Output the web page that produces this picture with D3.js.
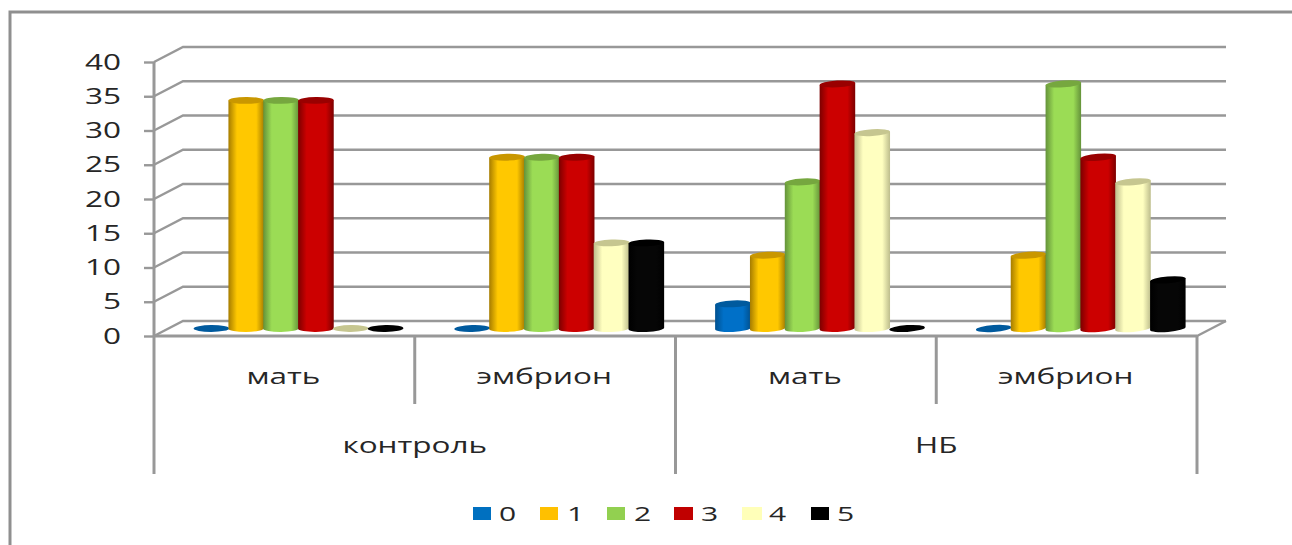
<!DOCTYPE html>
<html>
<head>
<meta charset="utf-8">
<script src="https://cdnjs.cloudflare.com/ajax/libs/d3/7.8.5/d3.min.js"></script>
<style>
html,body{margin:0;padding:0;background:#fff;}
svg{display:block;}
text{font-family:"Open Sans",sans-serif;fill:#262626;}
</style>
</head>
<body>
<svg id="chart" width="1292" height="545"></svg>
<script>
// Chart content
const subgroups = ["мать","эмбрион","мать","эмбрион"];
const groups = ["контроль","НБ"];
const seriesNames = ["0","1","2","3","4","5"];
const series0 = [0,0,3.6,0];
const series1 = [33.3,25,10.7,10.7];
const series2 = [33.3,25,21.4,35.7];
const series3 = [33.3,25,35.7,25];
const series4 = [0,12.5,28.6,21.4];
const series5 = [0,12.5,0,7.1];
const valueTicks = [0,5,10,15,20,25,30,35,40];

const seriesValues = [series0,series1,series2,series3,series4,series5];
// side, light centre, cap
const palette = [
  {side:"#00508f",mid:"#0070c8",cap:"#005a9e",key:"#0070c0"},
  {side:"#a67c00",mid:"#ffc800",cap:"#c99700",key:"#ffc000"},
  {side:"#64923a",mid:"#9bdc55",cap:"#76a73f",key:"#92d050"},
  {side:"#7c0000",mid:"#cc0000",cap:"#990000",key:"#c00000"},
  {side:"#bdbd8c",mid:"#ffffc0",cap:"#c6c690",key:"#ffffb9"},
  {side:"#000000",mid:"#060606",cap:"#000000",key:"#000000"}
];

// Layout of the pseudo-3D box
const plotLeft = 154, plotRight = 1197, plotTop = 62, plotFloor = 336;
const depthX = 29, depthY = -15;
const axisGray = "#989898";
const textStretch = 1.5;

const svg = d3.select("#chart");
const y = d3.scaleLinear().domain([0,40]).range([plotFloor,plotTop]);
const xSub = d3.scaleBand().domain(d3.range(subgroups.length)).range([plotLeft,plotRight]);
const xSeries = d3.scaleBand().domain(d3.range(seriesNames.length)).range([40,249]);
// Caps lean a little more towards the right of the plot
const tilt = d3.scaleLinear().domain([plotLeft,plotRight]).range([0,-5]);

// Horizontally stretched label
function label(sel,x,yPos,txt,size,anchor,stretch){
  return sel.append("text")
    .attr("transform",`translate(${x},${yPos}) scale(${stretch},1)`)
    .attr("text-anchor",anchor)
    .attr("font-size",size)
    .text(txt);
}

// Outer frame, only top and left edges are visible
svg.append("path")
  .attr("d","M1292,12H10V545")
  .attr("fill","none").attr("stroke","#8f8f8f").attr("stroke-width",3);

// Back wall gridlines with their slanted side-wall segments
const grid = svg.append("g").attr("fill","none").attr("stroke",axisGray).attr("stroke-width",2.4);
valueTicks.forEach(t=>{
  grid.append("path").attr("d",`M${plotLeft},${y(t)}L${plotLeft+depthX},${y(t)+depthY}H${plotRight+depthX}`);
});
grid.append("path").attr("d",`M${plotRight},${plotFloor}L${plotRight+depthX},${plotFloor+depthY}`);

// Value axis
const axisG = svg.append("g").attr("transform",`translate(${plotLeft},0)`)
  .call(d3.axisLeft(y).tickValues(valueTicks).tickSize(10).tickPadding(0).tickFormat(d3.format("d")));
axisG.selectAll(".domain").attr("stroke",axisGray).attr("stroke-width",3).attr("d",`M0,${plotTop}V${plotFloor}`);
axisG.selectAll(".tick line").attr("stroke",axisGray).attr("stroke-width",2.4);
axisG.selectAll(".tick text")
  .attr("font-size",21).attr("text-anchor","end").attr("fill","#262626")
  .attr("x",0).attr("dy",null).attr("y",0)
  .attr("transform",`translate(-33,7) scale(${textStretch},1)`)
  .attr("style",'font-family:"Open Sans",sans-serif');

// Floor front edge and category separators
const axes = svg.append("g").attr("stroke",axisGray).attr("fill","none");
axes.append("path").attr("stroke-width",3).attr("d",`M${plotLeft},${plotFloor}H${plotRight}`);
const groupEdges = [0,2,4];
groupEdges.forEach(i=>{
  const xp = i<subgroups.length ? xSub(i) : plotRight;
  axes.append("path").attr("stroke-width",3).attr("d",`M${xp},${plotFloor}V474`);
});
[1,3].forEach(i=>{
  axes.append("path").attr("stroke-width",3).attr("d",`M${xSub(i)},${plotFloor}V404`);
});

// Category labels
subgroups.forEach((s,i)=>{
  label(svg,xSub(i)+xSub.bandwidth()/2-1,384,s,21,"middle",textStretch);
});
groups.forEach((g,i)=>{
  const cx = xSub(i*2)+xSub.bandwidth();
  label(svg,cx,453,g,21,"middle",textStretch);
});

// Cylinder shading
const defs = svg.append("defs");
palette.forEach((c,i)=>{
  const g = defs.append("linearGradient").attr("id","cyl"+i).attr("x1",0).attr("x2",1).attr("y1",0).attr("y2",0);
  [[0,c.side],[0.24,c.mid],[0.78,c.mid],[1,c.side]].forEach(([o,col])=>{
    g.append("stop").attr("offset",o).attr("stop-color",col);
  });
});

// Columns, standing midway along the floor depth
const baseY = y(0)+depthY/2;
const rx = xSeries.bandwidth()/2+0.4, ry = 3.4;
const barsG = svg.append("g");
seriesNames.forEach((name,si)=>{
  seriesValues[si].forEach((v,ci)=>{
    const cx = xSub(ci)+xSeries(si)+xSeries.bandwidth()/2;
    const h = y(0)-y(v);
    const a = tilt(cx);
    const rad = a*Math.PI/180;
    const dx = rx*Math.cos(rad), dy = rx*Math.sin(rad);
    const topY = baseY-h;
    if(v>0){
      barsG.append("path")
        .attr("d",`M${cx-dx},${topY-dy}V${baseY-dy}A${rx},${ry},${a},0,0,${cx+dx},${baseY+dy}V${topY+dy}Z`)
        .attr("fill",`url(#cyl${si})`);
    }
    barsG.append("ellipse")
      .attr("cx",cx).attr("cy",topY).attr("rx",rx).attr("ry",ry)
      .attr("transform",`rotate(${a},${cx},${topY})`)
      .attr("fill",palette[si].cap);
  });
});

// Legend
const legendSwatchX = [473,540,607,674,742,811];
const legendTextX = [499,567,634,701,769,837];
const legendWidths = [18,18,18,19,20,18];
const legend = svg.append("g");
seriesNames.forEach((n,i)=>{
  legend.append("rect")
    .attr("x",legendSwatchX[i]).attr("y",507).attr("width",legendWidths[i]).attr("height",13)
    .attr("fill",palette[i].key);
  label(legend,legendTextX[i],521,n,20,"start",textStretch);
});
</script>
</body>
</html>
